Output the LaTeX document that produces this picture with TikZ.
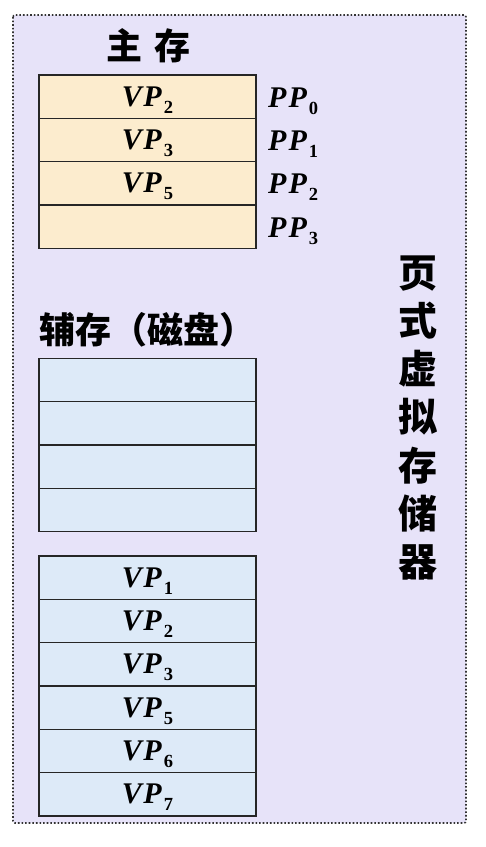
\documentclass[tikz,border=0pt]{standalone}
\usepackage{amsmath, amssymb}
\usepackage{fontspec}
\newfontfamily\cjk{Noto Sans CJK SC}
\newfontfamily\vpfont{Liberation Serif}
\usepackage{xcolor}
\usetikzlibrary{positioning}

\definecolor{fondo}{RGB}{231,227,249}
\definecolor{zhucun}{RGB}{252,236,206}
\definecolor{fucun}{RGB}{221,234,248}

\newcommand{\subi}[1]{\raisebox{-7pt}{\upshape\fontsize{18.5}{18.5}\selectfont #1}}
\newcommand{\vp}[1]{{\vpfont\bfseries\itshape V\kern1.5pt P\kern2pt\subi{#1}}}
\newcommand{\pp}[1]{{\vpfont\bfseries\itshape P\kern2pt P\kern2pt\subi{#1}}}

\begin{document}
\begin{tikzpicture}[
            x=1pt, y=-1pt,
            % Distancia nula entre celdas
            node distance=0pt,
            % Estilos de las celdas y textos
            celda/.style={rectangle, draw=black!85, line width=1.3pt, minimum width=217pt, minimum height=43.3pt, inner sep=0pt, outer sep=0pt, text height=19pt, text depth=0pt, font=\fontsize{30}{32}\selectfont},
            memcelda/.style={celda, fill=zhucun},
            discocelda/.style={celda, fill=fucun},
            ppnodo/.style={anchor=west, inner sep=0pt, text height=19pt, text depth=0pt, font=\fontsize{30}{32}\selectfont},
            titulo/.style={inner sep=0pt, font=\cjk\bfseries\fontsize{36}{38}\selectfont}
            ]

            \useasboundingbox (0,0) rectangle (486,847);
            % Fondo punteado
            \draw[fill=fondo, draw=black!80, line width=1.6pt, dotted, rounded corners=2pt] (13,15) rectangle (466,823);

            % Memoria principal
            \node (tprin) [titulo] at (148.5,46) {主\kern13pt 存};
            \node (m0) [memcelda] at (147.5,96.7) {\vp{2}};
            \node (m1) [memcelda, below=of m0] {\vp{3}};
            \node (m2) [memcelda, below=of m1] {\vp{5}};
            \node (m3) [memcelda, below=of m2] {};
            \foreach \i in {0,...,3}
                \node (pp\i) [ppnodo] at ([xshift=12pt, yshift=-1pt]m\i.east) {\pp{\i}};

            % Memoria secundaria
            \node (tsec) [titulo, anchor=west] at (39,330) {辅存（磁盘）};
            \node (d0) [discocelda] at (147.5,380) {};
            \node (d1) [discocelda, below=of d0] {};
            \node (d2) [discocelda, below=of d1] {};
            \node (d3) [discocelda, below=of d2] {};

            \node (v1) [discocelda] at (147.5,577.7) {\vp{1}};
            \node (v2) [discocelda, below=of v1] {\vp{2}};
            \node (v3) [discocelda, below=of v2] {\vp{3}};
            \node (v5) [discocelda, below=of v3] {\vp{5}};
            \node (v6) [discocelda, below=of v5] {\vp{6}};
            \node (v7) [discocelda, below=of v6] {\vp{7}};

            % Texto vertical
            \node (tvert) [titulo, font=\cjk\bfseries\fontsize{39}{48.1}\selectfont, align=center] at (418,418) {页\\式\\虚\\拟\\存\\储\\器};

        \end{tikzpicture}
\end{document}
